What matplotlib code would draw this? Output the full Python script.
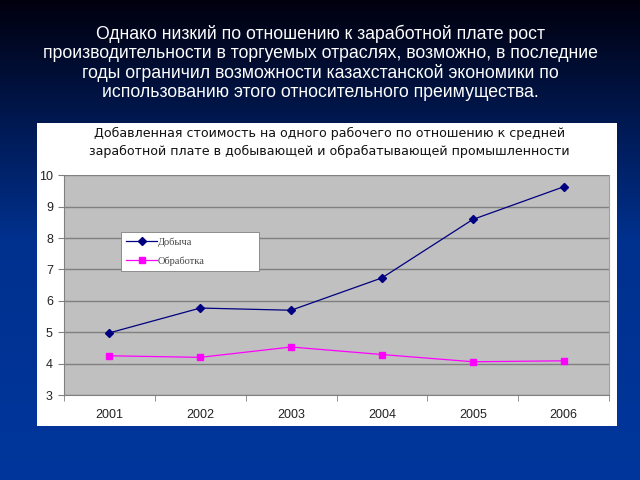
import numpy as np
import matplotlib.pyplot as plt
from matplotlib.colors import LinearSegmentedColormap
from matplotlib.patches import Rectangle

years = ['2001', '2002', '2003', '2004', '2005', '2006']
dobycha = [4.98, 5.77, 5.70, 6.73, 8.59, 9.63]
obrabotka = [4.25, 4.20, 4.53, 4.29, 4.06, 4.09]

slide_title = ('Однако низкий по отношению к заработной плате рост\n'
               'производительности в торгуемых отраслях, возможно, в последние\n'
               'годы ограничил возможности казахстанской экономики по\n'
               'использованию этого относительного преимущества.')
chart_title = ('Добавленная стоимость на одного рабочего по отношению к средней\n'
               'заработной плате в добывающей и обрабатывающей промышленности')

fig = plt.figure(figsize=(6.4, 4.8), dpi=100)

# slide background gradient
bg = fig.add_axes([0, 0, 1, 1], zorder=0)
cmap = LinearSegmentedColormap.from_list(
    'slide', [(0, '#00000e'), (0.25, '#001850'), (0.5, '#00318f'), (1, '#00369c')])
grad = np.linspace(0, 1, 256).reshape(-1, 1)
bg.imshow(grad, aspect='auto', cmap=cmap, extent=[0, 1, 0, 1], origin='upper')
bg.set_xlim(0, 1)
bg.set_ylim(0, 1)
bg.axis('off')

# white chart box
bg.add_patch(Rectangle((0.058, 0.113), 0.906, 0.631, facecolor='white',
                       edgecolor='none'))

fig.text(0.5, 0.869, slide_title, color='white', ha='center', va='center',
         fontsize=12.7, family='Liberation Sans', linespacing=1.17)
fig.text(0.515, 0.703, chart_title, color='#111111', ha='center', va='center',
         fontsize=9.1, family='DejaVu Sans', linespacing=1.45)

ax = fig.add_axes([0.1, 0.177, 0.8516, 0.458], zorder=1)
ax.set_facecolor('#c0c0c0')
x = np.arange(len(years))
ax.plot(x, dobycha, color='#000080', marker='D', markersize=4, lw=0.9,
        label='Добыча')
ax.plot(x, obrabotka, color='#ff00ff', marker='s', markersize=4.5, lw=0.9,
        label='Обработка')

ax.set_xlim(-0.5, 5.5)
ax.set_ylim(3, 10)
ax.set_yticks(range(3, 11))
ax.set_xticks(x)
ax.set_xticklabels(years)
ax.set_xticks(np.arange(-0.5, 6, 1), minor=True)
ax.tick_params(axis='x', which='major', length=0, pad=10, labelsize=9)
ax.tick_params(axis='x', which='minor', length=4, color='#808080', direction='out')
ax.tick_params(axis='y', length=4, color='#808080', labelsize=9, pad=4)
for lbl in ax.get_xticklabels() + ax.get_yticklabels():
    lbl.set_family('Liberation Sans')
    lbl.set_color('#222222')
ax.grid(axis='y', color='#808080', lw=1.0)
ax.set_axisbelow(True)
ax.spines['top'].set_visible(False)
ax.spines['left'].set_color('#808080')
ax.spines['bottom'].set_color('#808080')
ax.spines['right'].set_color('#a0a0a0')

leg = ax.legend(loc='upper left', bbox_to_anchor=(0.1046, 0.0, 0.253, 0.741),
                mode='expand', frameon=True, fancybox=False, framealpha=1,
                prop={'family': 'Liberation Serif', 'size': 7.5},
                handlelength=3.0, handletextpad=0.0, borderpad=0.5,
                labelspacing=0.9, borderaxespad=0)
leg.get_frame().set_edgecolor('#808080')
leg.get_frame().set_linewidth(0.6)
for t in leg.get_texts():
    t.set_color('#444444')

fig.savefig('out.png', dpi=100)
